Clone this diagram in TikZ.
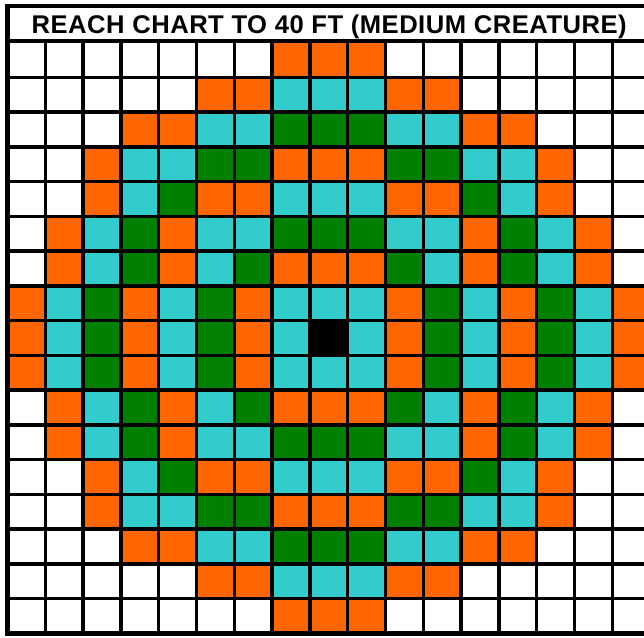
\documentclass[tikz,border=0pt]{standalone}
\usepackage{fontspec}
\newfontfamily\titlefont{Liberation Sans}[LetterSpace=2]
\definecolor{cW}{HTML}{FFFFFF}
\definecolor{cO}{HTML}{FF6600}
\definecolor{cC}{HTML}{33CCCC}
\definecolor{cG}{HTML}{008000}
\definecolor{cK}{HTML}{000000}
\tikzset{
  vline/.style={line width=3.4pt, black},
  hline/.style={line width=3.5pt, black},
  frameline/.style={line width=5.5pt, black},
  titletext/.style={font=\titlefont\bfseries\fontsize{25.6}{30}\selectfont, inner sep=0pt, anchor=base}
}
\begin{document}
\begin{tikzpicture}[x=1pt,y=-1pt]
\useasboundingbox (0,0) rectangle (644,637);
\clip (0,0) rectangle (644,637);
\fill[white] (0,0) rectangle (644,637);
% cells
\foreach \row [count=\j from 0] in {
 {W,W,W,W,W,W,W,O,O,O,W,W,W,W,W,W,W},
 {W,W,W,W,W,O,O,C,C,C,O,O,W,W,W,W,W},
 {W,W,W,O,O,C,C,G,G,G,C,C,O,O,W,W,W},
 {W,W,O,C,C,G,G,O,O,O,G,G,C,C,O,W,W},
 {W,W,O,C,G,O,O,C,C,C,O,O,G,C,O,W,W},
 {W,O,C,G,O,C,C,G,G,G,C,C,O,G,C,O,W},
 {W,O,C,G,O,C,G,O,O,O,G,C,O,G,C,O,W},
 {O,C,G,O,C,G,O,C,C,C,O,G,C,O,G,C,O},
 {O,C,G,O,C,G,O,C,K,C,O,G,C,O,G,C,O},
 {O,C,G,O,C,G,O,C,C,C,O,G,C,O,G,C,O},
 {W,O,C,G,O,C,G,O,O,O,G,C,O,G,C,O,W},
 {W,O,C,G,O,C,C,G,G,G,C,C,O,G,C,O,W},
 {W,W,O,C,G,O,O,C,C,C,O,O,G,C,O,W,W},
 {W,W,O,C,C,G,G,O,O,O,G,G,C,C,O,W,W},
 {W,W,W,O,O,C,C,G,G,G,C,C,O,O,W,W,W},
 {W,W,W,W,W,O,O,C,C,C,O,O,W,W,W,W,W},
 {W,W,W,W,W,W,W,O,O,O,W,W,W,W,W,W,W}} {
  \foreach \c [count=\i from 0] in \row {
    \fill[c\c] ({7.5+37.8*\i},{42.5+34.75*\j}) rectangle ({7.5+37.8*(\i+1)},{42.5+34.75*(\j+1)});
  }
}
% grid lines
\foreach \i in {1,...,16} {
  \draw[vline] ({7.5+37.8*\i},41.3) -- ({7.5+37.8*\i},633.5);
}
\foreach \j in {1,...,16} {
  \draw[hline] (7.5,{42.5+34.75*\j}) -- (650,{42.5+34.75*\j});
}
% frame
\draw[line width=4pt] (5,6) -- (652,6);
\draw[line width=4.2pt] (7.5,41.3) -- (652,41.3);
\draw[frameline] (7.5,4) -- (7.5,636);
\draw[frameline] (5,633.5) -- (652,633.5);
\draw[frameline] (650,4) -- (650,636);
% title
\node[titletext] (title) at (329.2,33.8) {REACH CHART TO 40 FT (MEDIUM CREATURE)};
\end{tikzpicture}
\end{document}
